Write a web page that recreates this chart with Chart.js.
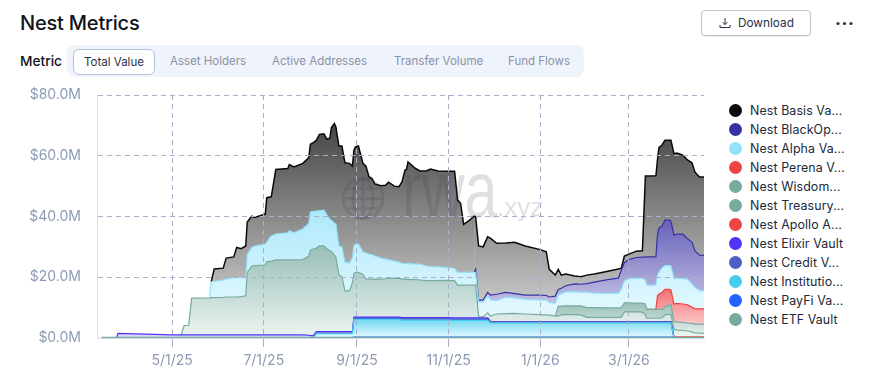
<!DOCTYPE html>
<html>
<head>
<meta charset="utf-8">
<title>Nest Metrics</title>
<script src="https://cdn.jsdelivr.net/npm/chart.js"></script>
<style>
  html, body { margin: 0; padding: 0; background: #fff; }
  body { width: 882px; height: 373px; position: relative; overflow: hidden; font-family: Inter, "Noto Sans", sans-serif; }
  .title { position: absolute; left: 20px; top: 11px; font-size: 20px; line-height: 24px; font-weight: 500; color: #10131a; letter-spacing: -0.2px; }
  .download { position: absolute; left: 701px; top: 10px; width: 108px; height: 24px; border: 1px solid #bcc2cf; border-radius: 4px; box-shadow: 0 1px 1px rgba(0,0,0,.08); }
  .download svg { position: absolute; left: 17px; top: 6px; }
  .download span { position: absolute; left: 36px; top: 0; line-height: 24px; font-size: 11.8px; color: #27304a; }
  .dots { position: absolute; left: 835px; top: 21px; }
  .metric { position: absolute; left: 20px; top: 52px; line-height: 18px; font-size: 13.7px; font-weight: 500; color: #10131a; }
  .tabs { position: absolute; left: 67px; top: 45px; width: 517px; height: 32px; background: #eff3fc; border-radius: 8px; }
  .tab { position: absolute; top: 0; line-height: 32px; font-size: 11.5px; color: #8a92a6; white-space: nowrap; }
  .tab.active { left: 6px; top: 4px; width: 80px; height: 24px; line-height: 24px; text-align: center; background: #fff; border: 1px solid #b6c0da; border-radius: 6px; color: #2c3346; }
  #chart { position: absolute; left: 0; top: 85px; }
  #legend { position: absolute; left: 729px; top: 101px; }
  .item { height: 19px; line-height: 19px; font-size: 12.4px; color: #20283a; white-space: nowrap; position: relative; padding-left: 21px; letter-spacing: 0.1px; }
  .item i { position: absolute; left: 0; top: 3px; width: 13px; height: 13px; border-radius: 50%; }
</style>
</head>
<body>
<div class="title">Nest Metrics</div>
<div class="download">
  <svg width="12" height="12" viewBox="0 0 12 12" fill="none" stroke="#27304a" stroke-width="1"><path d="M6 1v6.5M3.6 5.2 6 7.6l2.4-2.4M1 8v2.5h10V8"/></svg>
  <span>Download</span>
</div>
<svg class="dots" width="19" height="5"><circle cx="3" cy="2.5" r="1.6" fill="#2b3347"/><circle cx="9.5" cy="2.5" r="1.6" fill="#2b3347"/><circle cx="16" cy="2.5" r="1.6" fill="#2b3347"/></svg>
<div class="metric">Metric</div>
<div class="tabs" id="tabs"></div>
<canvas id="chart" width="710" height="288"></canvas>
<div id="legend"></div>

<script>
const metricTabs = ['Total Value', 'Asset Holders', 'Active Addresses', 'Transfer Volume', 'Fund Flows'];
const metricTabLeft = [0, 103, 205, 327, 441];

const seriesLabels = ['Nest Basis Va...', 'Nest BlackOp...', 'Nest Alpha Va...', 'Nest Perena V...', 'Nest Wisdom...', 'Nest Treasury...', 'Nest Apollo A...', 'Nest Elixir Vault', 'Nest Credit V...', 'Nest Institutio...', 'Nest PayFi Va...', 'Nest ETF Vault'];
const seriesColors = ['#0a0a0a', '#3730a3', '#93e2f9', '#ef4444', '#76ab9f', '#76ab9f', '#ef4444', '#4f35f5', '#4c5fc7', '#45cdf0', '#2563ff', '#76ab9f'];

const xTicks = ['5/1/25', '7/1/25', '9/1/25', '11/1/25', '1/1/26', '3/1/26'];
const yTicks = [0, 20, 40, 60, 80];

const dates = [
  '3/15/25', '3/25/25', '3/26/25', '5/1/25', '5/7/25', '5/9/25', '5/12/25', '5/14/25', '5/26/25', '5/27/25',
  '5/29/25', '6/4/25', '6/6/25', '6/11/25', '6/13/25', '6/16/25', '6/19/25', '6/20/25', '6/23/25', '6/25/25',
  '7/2/25', '7/3/25', '7/6/25', '7/9/25', '7/17/25', '7/18/25', '7/21/25', '7/27/25', '7/31/25', '8/1/25',
  '8/3/25', '8/5/25', '8/7/25', '8/10/25', '8/12/25', '8/14/25', '8/15/25', '8/17/25', '8/18/25', '8/20/25',
  '8/22/25', '8/24/25', '8/27/25', '8/29/25', '8/30/25', '8/31/25', '9/2/25', '9/5/25', '9/7/25', '9/9/25',
  '9/11/25', '9/13/25', '9/17/25', '9/20/25', '9/22/25', '9/26/25', '9/29/25', '10/1/25', '10/3/25', '10/4/25',
  '10/5/25', '10/10/25', '10/13/25', '10/17/25', '10/20/25', '10/25/25', '11/1/25', '11/5/25', '11/7/25', '11/9/25',
  '11/11/25', '11/15/25', '11/18/25', '11/19/25', '11/21/25', '11/24/25', '11/27/25', '11/29/25', '12/3/25', '12/9/25',
  '12/15/25', '12/22/25', '1/1/26', '1/5/26', '1/7/26', '1/11/26', '1/13/26', '1/15/26', '1/18/26', '1/24/26',
  '1/28/26', '2/1/26', '2/6/26', '2/15/26', '2/22/26', '2/24/26', '2/26/26', '3/1/26', '3/6/26', '3/10/26',
  '3/12/26', '3/13/26', '3/19/26', '3/20/26', '3/21/26', '3/23/26', '3/25/26', '3/28/26', '3/29/26', '3/31/26',
  '4/2/26', '4/6/26', '4/9/26', '4/12/26', '4/14/26', '4/17/26', '4/20/26'
];

// values in $M, per vault
const basis = [
  0, 0, 0, 0, 0, 0, 0, 0, 0, 0,
  4.1, 3.9, 6.9, 6.8, 9.9, 9.5, 10.4, 10.7, 10.3, 9.4,
  9.9, 14.6, 12.9, 21.3, 21.2, 21.8, 21.7, 21.6, 21.7, 22.3,
  22.7, 23.3, 25.1, 25.1, 25, 26.7, 30.6, 32.8, 32, 32.9,
  33.2, 32.8, 32.9, 30.3, 31.5, 32, 32.3, 29.1, 28.6, 25.5,
  25.1, 23.7, 23.8, 24.3, 25.5, 24.7, 24.8, 26.8, 30.8, 31,
  33.5, 31.5, 30.7, 31.3, 32.1, 31.6, 31.7, 32, 23.8, 22.7,
  15.8, 17.2, 18.5, 17.2, 17.8, 17.5, 18.3, 18.7, 16.8, 16.3,
  16.9, 16.2, 15, 14.4, 9.1, 6.9, 6.6, 4.3, 3.9, 2.6,
  2.5, 2.8, 2.7, 2.8, 3, 0.6, 2.2, 1.8, 2.1, 2.1,
  26.7, 26.6, 26.7, 24.7, 26.5, 26.7, 26.3, 26.3, 26.6, 26.8,
  26.7, 26, 25.9, 26.1, 25.9, 25.7, 25.8
];
const blackOp = [
  0, 0, 0, 0, 0, 0, 0, 0, 0, 0,
  0, 0, 0, 0, 0, 0, 0, 0, 0, 0,
  0, 0, 0, 0, 0, 0, 0, 0, 0, 0,
  0, 0, 0, 0, 0, 0, 0, 0, 0, 0,
  0, 0, 0, 0, 0, 0, 0, 0, 0, 0,
  0, 0, 0, 0, 0, 0, 0, 0, 0, 0,
  0, 0, 0, 0, 0, 0, 0, 0, 0, 0,
  0, 0, 0, 1.1, 0.6, 0.6, 1.2, 1.6, 2.1, 1.6,
  1.4, 1.4, 1.6, 1.5, 1.8, 2.4, 1.9, 1.8, 2, 2.6,
  2.6, 2.9, 3.6, 4.5, 5, 6.3, 6, 6.2, 6.9, 7,
  7.5, 9.3, 9.3, 13.2, 14.5, 13.8, 15, 15, 14.8, 14.3,
  14.6, 14.7, 13.3, 13.8, 12.1, 11.7, 11.7
];
const alpha = [
  0, 0, 0, 0, 0, 0, 0, 0, 0, 5.2,
  5.3, 5.7, 5.9, 6.4, 6.4, 6.3, 6, 6, 6.1, 6.5,
  6.9, 6.5, 8.3, 8.5, 8.9, 9.6, 8.9, 10.1, 10.7, 12.6,
  12.3, 12.2, 11.6, 11.8, 11.1, 10.3, 10.2, 10.5, 10.8, 9.6,
  9.8, 9.4, 9.1, 8.2, 9.2, 9.3, 9.3, 7.5, 8.6, 8.2,
  8, 7.6, 6.9, 6.5, 6.2, 5.7, 5.4, 5.2, 5.1, 5.2,
  5.2, 5.1, 5.2, 4.8, 4.6, 4.5, 4.2, 4, 4.2, 4.2,
  4.2, 4.2, 4.2, 4.2, 4.9, 4.9, 5.5, 5.3, 4.4, 5.4,
  5.1, 4.8, 4.8, 4.9, 4.2, 4.1, 3.7, 4.1, 4.6, 4.6,
  4.5, 5, 4.8, 4.8, 4.8, 6.1, 7.2, 8, 8.1, 8.1,
  7.9, 8, 7.9, 6.9, 7.2, 8, 7.8, 7.8, 7.9, 8.4,
  8.2, 8.3, 8.5, 7.6, 7, 6, 5.9
];
const perena = [
  0, 0, 0, 0, 0, 0, 0, 0, 0, 0,
  0, 0, 0, 0, 0, 0, 0, 0, 0, 0,
  0, 0, 0, 0, 0, 0, 0, 0, 0, 0,
  0, 0, 0, 0, 0, 0, 0, 0, 0, 0,
  0, 0, 0, 0, 0, 0, 0, 0, 0, 0,
  0, 0, 0, 0, 0, 0, 0, 0, 0, 0,
  0, 0, 0, 0, 0, 0, 0, 0, 0, 0,
  0, 0, 0, 0, 0, 0, 0, 0, 0, 0,
  0, 0, 0, 0, 0, 0, 0, 0, 0, 0,
  0, 0, 0, 0, 0, 0, 0, 0, 0, 0,
  0, 0, 0.1, 4.4, 5.1, 5.6, 5.8, 5.1, 4.9, 5.8,
  6.1, 6.1, 6, 5.4, 5, 5, 5.1
];
const wisdom = [
  0, 0, 0, 0, 0, 0, 0, 0, 0, 0,
  0, 0, 0, 0, 0, 0, 0, 0, 0, 0,
  0, 0, 0, 0, 0, 0, 0, 0, 0, 0,
  0, 0, 0, 0, 0, 0, 0, 0, 0, 0,
  0, 0, 0, 0, 0, 0, 0, 0, 0, 0,
  0, 0, 0, 0, 0, 0, 0, 0, 0, 0,
  0, 0, 0, 0, 0, 0, 0, 0, 0, 0,
  0, 0, 0, 0, 0, 0, 0, 0, 0, 0,
  0, 0, 0, 0, 0, 0, 3.2, 2.9, 2.8, 2.9,
  3, 3.2, 3.2, 3.1, 3.1, 3.2, 3, 2.9, 2.9, 3,
  3.6, 2.9, 2.9, 2.9, 2.9, 2.8, 2.6, 3.1, 3.1, 2.5,
  2.7, 2.6, 2.6, 2.8, 2.9, 3, 3
];
const treasury = [
  0, 0, 0, 0, 0, 3.1, 3.2, 12.1, 12.2, 12.3,
  12.3, 12.4, 12.5, 12.5, 12.5, 12.6, 12.9, 20.5, 22.7, 22.8,
  23, 24.1, 24.3, 24.7, 24.7, 24.7, 24.7, 24.8, 26.1, 28.1,
  28.5, 27.5, 28.2, 28.2, 27.3, 26.7, 26.4, 25.2, 24.6, 18.6,
  18.1, 13.4, 13.4, 16, 14.2, 14.7, 14.7, 14, 12.5, 12.5,
  12.5, 12.5, 12.5, 12.6, 12.7, 12.7, 12.7, 12.7, 12.7, 12.6,
  12.6, 12.5, 12.4, 12.2, 12.2, 12.2, 12.3, 12.3, 10.8, 10.8,
  10.8, 10.8, 10.8, 10.8, 0.4, 0.4, 1.7, 1.8, 2.5, 2.6,
  2.7, 2.5, 2.3, 2.2, 2.1, 1.9, 1.8, 2.2, 2.4, 2.3,
  2.2, 1.4, 1.4, 1.4, 1.4, 1.4, 3.2, 3.3, 3.2, 3.1,
  2.2, 1.1, 1.1, 1.1, 1.1, 1.2, 2.2, 2.4, 2.4, 2.5,
  2.2, 2.1, 1.9, 1.6, 1.3, 1.2, 1.1
];
const apollo = [
  0, 0, 0, 0, 0, 0, 0, 0, 0, 0,
  0, 0, 0, 0, 0, 0, 0, 0, 0, 0,
  0, 0, 0, 0, 0, 0, 0, 0, 0, 0,
  0, 0, 0, 0, 0, 0, 0, 0, 0, 0,
  0, 0, 0, 0, 0, 0, 0, 0, 0, 0,
  0, 0, 0, 0, 0, 0, 0, 0, 0, 0,
  0, 0, 0, 0, 0, 0, 0, 0, 0, 0,
  0, 0, 0, 0, 0, 0, 0, 0.1, 0.1, 0.1,
  0.1, 0.1, 0.1, 0.1, 0.1, 0.1, 0.1, 0.1, 0.1, 0.1,
  0.1, 0.1, 0.1, 0.1, 0.1, 0.1, 0.1, 0.1, 0.1, 0.1,
  0.1, 0.1, 0.1, 0.1, 0.1, 0.1, 0.1, 0.1, 0.1, 0.2,
  0.2, 0.2, 0.2, 0.2, 0.2, 0.2, 0.2
];
const elixir = [
  0, 0, 1.3, 0.8, 0.8, 0.8, 0.8, 0.8, 0.8, 0.8,
  0.8, 0.8, 0.8, 0.8, 0.8, 0.8, 0.8, 0.8, 0.8, 0.8,
  0.8, 0.8, 0.8, 0.8, 0.8, 0.8, 0.8, 0.8, 0.7, 0.6,
  0.6, 0.5, 0.5, 0.5, 0.5, 0.5, 0.5, 0.5, 0.5, 0.5,
  0.5, 0.5, 0.5, 0.5, 0.5, 0.5, 0.5, 0.5, 0.5, 0.5,
  0.5, 0.5, 0.5, 0.5, 0.5, 0.5, 0.5, 0.5, 0.5, 0.5,
  0.5, 0.5, 0.5, 0.5, 0.5, 0.5, 0.5, 0.5, 0.5, 0.5,
  0.5, 0.5, 0.5, 0.5, 0.5, 0.5, 0.5, 0.1, 0.1, 0.1,
  0.1, 0.1, 0.1, 0.1, 0.1, 0.1, 0.1, 0.1, 0.1, 0.1,
  0.1, 0.1, 0.1, 0.1, 0.1, 0.1, 0.1, 0.1, 0.1, 0.1,
  0.1, 0.1, 0.1, 0.1, 0.1, 0.1, 0.1, 0.1, 0.1, 0,
  0, 0, 0, 0, 0, 0, 0
];
const credit = [
  0, 0, 0, 0, 0, 0, 0, 0, 0, 0,
  0, 0, 0, 0, 0, 0, 0, 0, 0, 0,
  0, 0, 0, 0, 0, 0, 0, 0, 0, 0,
  0, 0.2, 0.2, 0.2, 0.2, 0.2, 0.2, 0.2, 0.2, 0.2,
  0.2, 0.2, 0.2, 0.2, 0.3, 0.3, 0.3, 0.3, 0.3, 0.3,
  0.3, 0.3, 0.3, 0.3, 0.3, 0.3, 0.3, 0.3, 0.3, 0.3,
  0.3, 0.3, 0.3, 0.3, 0.3, 0.3, 0.3, 0.3, 0.3, 0.3,
  0.3, 0.3, 0.3, 0.3, 0.3, 0.3, 0.3, 0.2, 0.2, 0.2,
  0.2, 0.2, 0.2, 0.2, 0.2, 0.2, 0.2, 0.2, 0.2, 0.2,
  0.2, 0.2, 0.2, 0.2, 0.2, 0.2, 0.2, 0.2, 0.2, 0.2,
  0.2, 0.2, 0.2, 0.2, 0.2, 0.2, 0.2, 0.2, 0.2, 0,
  0, 0, 0, 0, 0, 0, 0
];
const institutional = [
  0, 0, 0, 0, 0, 0, 0, 0, 0, 0,
  0, 0, 0, 0, 0, 0, 0, 0, 0, 0,
  0, 0, 0, 0, 0, 0, 0, 0, 0, 0,
  0, 1.2, 1.2, 1.2, 1.2, 1.2, 1.2, 1.2, 1.2, 1.2,
  1.2, 1.2, 1.2, 1.2, 5.8, 5.8, 5.8, 5.8, 5.8, 5.8,
  5.8, 5.8, 5.8, 5.8, 5.8, 5.8, 5.8, 5.6, 5.6, 5.6,
  5.6, 5.6, 5.6, 5.6, 5.6, 5.6, 5.6, 5.5, 5.5, 5.5,
  5.5, 5.5, 5.5, 5.5, 5.5, 5.5, 5.5, 4.7, 4.7, 4.7,
  4.7, 4.7, 4.7, 4.7, 4.7, 4.7, 4.7, 4.7, 4.7, 4.7,
  4.7, 4.7, 4.7, 4.7, 4.7, 4.7, 4.7, 4.7, 4.7, 4.7,
  4.7, 4.7, 4.7, 4.7, 4.7, 4.7, 4.7, 4.7, 4.7, 0,
  0, 0, 0, 0, 0, 0, 0
];
const payFi = [
  0, 0, 0, 0, 0, 0, 0, 0, 0, 0,
  0, 0, 0, 0, 0, 0, 0, 0, 0, 0,
  0, 0, 0, 0, 0, 0, 0, 0, 0, 0,
  0, 0, 0, 0, 0, 0, 0, 0, 0, 0,
  0, 0, 0, 0, 0.1, 0.1, 0.1, 0.1, 0.1, 0.1,
  0.1, 0.1, 0.1, 0.1, 0.1, 0.1, 0.1, 0.1, 0.1, 0.1,
  0.1, 0.1, 0.1, 0.1, 0.1, 0.1, 0.1, 0.1, 0.1, 0.1,
  0.1, 0.1, 0.1, 0.1, 0.1, 0.1, 0.1, 0.1, 0.1, 0.1,
  0.1, 0.1, 0.1, 0.1, 0.1, 0.1, 0.1, 0.1, 0.1, 0.1,
  0.1, 0.1, 0.1, 0.1, 0.1, 0.1, 0.1, 0.1, 0.1, 0.1,
  0.1, 0.1, 0.1, 0.1, 0.1, 0.1, 0.1, 0.1, 0.1, 0,
  0, 0, 0, 0, 0, 0, 0
];
const etf = [
  0.2, 0.2, 0.2, 0.2, 0.2, 0.2, 0.2, 0.2, 0.2, 0.2,
  0.2, 0.2, 0.2, 0.2, 0.2, 0.2, 0.2, 0.2, 0.2, 0.2,
  0.2, 0.2, 0.2, 0.2, 0.2, 0.2, 0.2, 0.2, 0.2, 0.2,
  0.2, 0.2, 0.2, 0.2, 0.2, 0.2, 0.2, 0.2, 0.2, 0.2,
  0.2, 0.2, 0.2, 0.2, 0.2, 0.2, 0.2, 0.2, 0.2, 0.2,
  0.2, 0.2, 0.2, 0.2, 0.2, 0.2, 0.2, 0.2, 0.2, 0.2,
  0.2, 0.2, 0.2, 0.2, 0.2, 0.2, 0.2, 0.2, 0.2, 0.2,
  0.2, 0.2, 0.2, 0.2, 0.2, 0.2, 0.2, 0.2, 0.2, 0.2,
  0.2, 0.2, 0.2, 0.2, 0.2, 0.2, 0.2, 0.2, 0.2, 0.2,
  0.2, 0.2, 0.2, 0.2, 0.2, 0.2, 0.2, 0.2, 0.2, 0.2,
  0.2, 0.2, 0.2, 0.2, 0.2, 0.2, 0.2, 0.2, 0.2, 0.2,
  0.2, 0.2, 0.2, 0.2, 0.2, 0.2, 0.2
];

// legend order, top of the stack first
const seriesValues = [basis, blackOp, alpha, perena, wisdom, treasury, apollo, elixir, credit, institutional, payFi, etf];

function dateToMs(text) {
  const [m, d, y] = text.split('/').map(Number);
  return Date.UTC(2000 + y, m - 1, d);
}

function rgba(hex, a) {
  const n = parseInt(hex.slice(1), 16);
  return `rgba(${n >> 16},${(n >> 8) & 255},${n & 255},${a})`;
}

const bottomUp = seriesValues.slice().reverse();
const bottomUpColors = seriesColors.slice().reverse();

// highest stacked value a series reaches, used as the top of its gradient
function stackPeak(order) {
  let peak = 0;
  dates.forEach((_, i) => {
    let sum = 0;
    for (let k = 0; k <= order; k++) sum += bottomUp[k][i];
    if (bottomUp[order][i] > 0 && sum > peak) peak = sum;
  });
  return peak;
}

const datasets = bottomUp.map((values, order) => ({
  label: seriesLabels[seriesLabels.length - 1 - order],
  data: values.map((v, i) => ({ x: dateToMs(dates[i]), y: v })),
  borderColor: bottomUpColors[order],
  borderWidth: order === bottomUp.length - 1 ? 1.5 : 1.2,
  pointRadius: 0,
  tension: 0,
  fill: order === 0 ? 'origin' : '-1',
  // vaults that hold nothing yet leave no line on top of the stack
  segment: {
    borderColor: ctx => (ctx.p0.parsed.y === 0 && ctx.p1.parsed.y === 0 ? 'transparent' : undefined),
  },
  backgroundColor: ctx => {
    const chart = ctx.chart;
    const color = bottomUpColors[order];
    if (!chart.chartArea) return rgba(color, 0.5);
    const top = chart.scales.y.getPixelForValue(stackPeak(order));
    const gradient = chart.ctx.createLinearGradient(0, top, 0, chart.chartArea.bottom);
    gradient.addColorStop(0, rgba(color, 0.76));
    gradient.addColorStop(1, rgba(color, 0.12));
    return gradient;
  },
}));

const watermark = {
  id: 'watermark',
  afterDatasetsDraw(chart) {
    const c = chart.ctx;
    const color = 'rgba(50,50,60,0.15)';
    c.save();
    c.strokeStyle = color;
    c.fillStyle = color;
    c.lineWidth = 3;
    const cx = 363, cy = 113.5, r = 20;
    c.beginPath();
    c.arc(cx, cy, r, 0, Math.PI * 2);
    c.moveTo(cx - r, cy);
    c.lineTo(cx + r, cy);
    c.moveTo(cx - r + 3, cy - 10);
    c.lineTo(cx + r - 3, cy - 10);
    c.moveTo(cx - r + 3, cy + 10);
    c.lineTo(cx + r - 3, cy + 10);
    c.moveTo(cx, cy - r);
    c.lineTo(cx, cy + r);
    c.stroke();
    c.beginPath();
    c.ellipse(cx, cy, 10, r, 0, 0, Math.PI * 2);
    c.stroke();
    c.translate(402, 132);
    c.save();
    c.scale(0.74, 1);
    c.font = '80px "Liberation Sans"';
    c.fillText('rwa', 0, 0);
    c.restore();
    c.font = '26px "Liberation Sans"';
    c.fillText('.xyz', 95, -1);
    c.restore();
  },
};

new Chart(document.getElementById('chart'), {
  type: 'line',
  data: { datasets },
  plugins: [watermark],
  options: {
    responsive: false,
    animation: false,
    layout: { padding: { top: 10, right: 6, left: 0, bottom: 0 } },
    plugins: { legend: { display: false }, tooltip: { enabled: false } },
    scales: {
      x: {
        type: 'linear',
        min: dateToMs('3/12/25'),
        max: dateToMs('4/20/26'),
        afterBuildTicks: axis => { axis.ticks = xTicks.map(t => ({ value: dateToMs(t) })); },
        afterFit: axis => { axis.height = 35; axis.paddingLeft = 0; axis.paddingRight = 0; },
        ticks: {
          autoSkip: false,
          maxRotation: 0,
          padding: 5,
          color: '#8d9ab5',
          font: { family: 'Inter', size: 14 },
          callback: value => xTicks.find(t => dateToMs(t) === value),
        },
        grid: { z: 1, color: '#a6b0ca', tickLength: 9, lineWidth: 1 },
        // border has to draw after the grid, it reads a position the grid pass sets
        border: { z: 2, color: '#d5dcec', dash: [5, 4] },
      },
      y: {
        stacked: true,
        min: 0,
        max: 80,
        afterBuildTicks: axis => { axis.ticks = yTicks.map(v => ({ value: v })); },
        afterFit: axis => { axis.width = 97; axis.paddingTop = 0; axis.paddingBottom = 0; },
        ticks: {
          padding: 16,
          color: '#8d9ab5',
          font: { family: 'Inter', size: 14 },
          callback: value => `$${value.toFixed(1)}M`,
        },
        grid: { z: 1, color: '#a6b0ca', drawTicks: false, lineWidth: 1 },
        border: { z: 2, color: '#d5dcec', dash: [5, 4] },
      },
    },
  },
});

document.getElementById('tabs').innerHTML = metricTabs.map((t, i) =>
  i === 0 ? `<div class="tab active">${t}</div>` : `<div class="tab" style="left:${metricTabLeft[i]}px">${t}</div>`
).join('');

document.getElementById('legend').innerHTML = seriesLabels.map((t, i) =>
  `<div class="item"><i style="background:${seriesColors[i]}"></i>${t}</div>`
).join('');
</script>
</body>
</html>
